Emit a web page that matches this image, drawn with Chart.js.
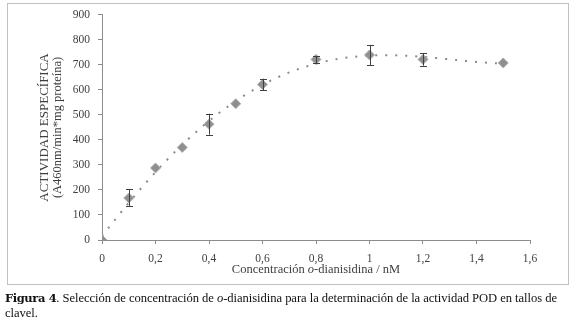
<!DOCTYPE html>
<html>
<head>
<meta charset="utf-8">
<script src="https://cdn.jsdelivr.net/npm/chart.js@4.4.1/dist/chart.umd.min.js"></script>
<style>
  body { margin: 0; background: #fff; }
  #wrap { position: relative; width: 576px; height: 320px; overflow: hidden; }
  #frame { position: absolute; left: 7px; top: 3px; width: 562px; height: 282px; border: 1px solid #c0c0c0; box-sizing: border-box; }
  canvas { position: absolute; left: 0; top: 0; }
  #caption { position: absolute; left: 5px; top: 291px; width: 571px; font-family: "Liberation Serif", "Times New Roman", serif; font-size: 12.6px; letter-spacing: -0.05px; line-height: 15px; color: #111; }
  #caption b { font-family: "DejaVu Serif", serif; font-size: 11.5px; letter-spacing: -0.4px; }
</style>
</head>
<body>
<div id="wrap">
  <div id="frame"></div>
  <canvas id="podChart" width="576" height="320"></canvas>
  <div id="caption"><b>Figura 4</b>. Selección de concentración de <i>o</i>-dianisidina para la determinación de la actividad POD en tallos de clavel.</div>
</div>
<script>
// concentration of o-dianisidina (nM)
const concentrations = [0, 0.1, 0.2, 0.3, 0.4, 0.5, 0.6, 0.8, 1.0, 1.2, 1.5];
// specific activity
const activity = [0, 168, 288, 370, 463, 545, 622, 722, 740, 722, 708];
// error bar half-widths (0 = no visible bar)
const errors = [0, 34, 0, 0, 42, 0, 23, 14, 40, 25, 0];
const yTicks = [0, 100, 200, 300, 400, 500, 600, 700, 800, 900];
const xTicks = [0, 0.2, 0.4, 0.6, 0.8, 1.0, 1.2, 1.4, 1.6];

// least-squares polynomial trendline, like the spreadsheet one
function polyFit(xs, ys, deg) {
  const n = deg + 1;
  const A = [];
  for (let i = 0; i < n; i++) {
    A.push(new Array(n + 1).fill(0));
  }
  xs.forEach((x, k) => {
    for (let i = 0; i < n; i++) {
      for (let j = 0; j < n; j++) A[i][j] += Math.pow(x, i + j);
      A[i][n] += ys[k] * Math.pow(x, i);
    }
  });
  for (let i = 0; i < n; i++) {
    let p = i;
    for (let r = i + 1; r < n; r++) if (Math.abs(A[r][i]) > Math.abs(A[p][i])) p = r;
    [A[i], A[p]] = [A[p], A[i]];
    for (let r = 0; r < n; r++) {
      if (r === i) continue;
      const f = A[r][i] / A[i][i];
      for (let c = i; c <= n; c++) A[r][c] -= f * A[i][c];
    }
  }
  return A.map((row, i) => row[n] / row[i]);
}
const coef = polyFit(concentrations, activity, 4);
const trendPoints = [];
for (let k = 0; k <= 75; k++) {
  const x = 1.5 * k / 75;
  trendPoints.push({ x: x, y: coef.reduce((s, c, i) => s + c * Math.pow(x, i), 0) });
}

const serif = '"Liberation Serif", "Times New Roman", serif';
const labelColor = '#404040';
const axisColor = '#8c8c8c';

const extras = {
  id: 'extras',
  afterDatasetsDraw(chart) {
    const ctx = chart.ctx;
    const xs = chart.scales.x, ys = chart.scales.y;
    // error bars
    ctx.save();
    ctx.strokeStyle = '#404040';
    ctx.lineWidth = 1;
    concentrations.forEach((c, i) => {
      if (!errors[i]) return;
      const px = Math.round(xs.getPixelForValue(c)) + 0.5;
      const top = ys.getPixelForValue(activity[i] + errors[i]);
      const bot = ys.getPixelForValue(activity[i] - errors[i]);
      ctx.beginPath();
      ctx.moveTo(px, top); ctx.lineTo(px, bot);
      ctx.moveTo(px - 3.5, Math.round(top) + 0.5); ctx.lineTo(px + 3.5, Math.round(top) + 0.5);
      ctx.moveTo(px - 3.5, Math.round(bot) + 0.5); ctx.lineTo(px + 3.5, Math.round(bot) + 0.5);
      ctx.stroke();
    });
    ctx.restore();
  },
  afterDraw(chart) {
    const ctx = chart.ctx;
    const area = chart.chartArea;
    ctx.save();
    ctx.fillStyle = labelColor;
    // y axis title, two lines
    const cy = (area.top + area.bottom) / 2;
    ctx.font = '13px ' + serif;
    ctx.textAlign = 'center';
    ctx.textBaseline = 'middle';
    ctx.translate(45, cy);
    ctx.rotate(-Math.PI / 2);
    ctx.fillText('ACTIVIDAD ESPECÍFICA', 0, 0);
    ctx.font = '12.5px ' + serif;
    ctx.fillText('(A460nm/min*mg proteína)', 0, 13);
    ctx.restore();

    // x axis title with italic "o"
    ctx.save();
    ctx.fillStyle = labelColor;
    ctx.textBaseline = 'middle';
    const parts = [
      ['Concentración ', '12.5px ' + serif],
      ['o', 'italic 12.5px ' + serif],
      ['-dianisidina / nM', '12.5px ' + serif]
    ];
    let total = 0;
    parts.forEach(p => { ctx.font = p[1]; total += ctx.measureText(p[0]).width; });
    let x = (area.left + area.right) / 2 - total / 2;
    parts.forEach(p => {
      ctx.font = p[1];
      ctx.fillText(p[0], x, 270);
      x += ctx.measureText(p[0]).width;
    });
    ctx.restore();
  }
};

new Chart(document.getElementById('podChart').getContext('2d'), {
  type: 'scatter',
  data: {
    datasets: [
      {
        label: 'Actividad',
        data: concentrations.map((c, i) => ({ x: c, y: activity[i] })),
        pointStyle: 'rectRot',
        pointRadius: 5,
        backgroundColor: '#8f8f8f',
        borderColor: '#b0b0b0',
        borderWidth: 1,
        order: 1
      },
      {
        label: 'Tendencia',
        type: 'line',
        data: trendPoints,
        borderColor: '#8a8a8a',
        borderWidth: 2,
        borderDash: [2, 8],
        pointRadius: 0,
        fill: false,
        order: 2
      }
    ]
  },
  options: {
    responsive: false,
    animation: false,
    layout: { padding: { top: 10, right: 46, bottom: 0, left: 0 } },
    plugins: { legend: { display: false }, tooltip: { enabled: false } },
    scales: {
      x: {
        type: 'linear',
        min: 0, max: 1.6,
        afterBuildTicks: s => { s.ticks = xTicks.map(v => ({ value: v })); },
        afterFit: s => { s.height = 80; },
        border: { color: axisColor, width: 1 },
        grid: { drawOnChartArea: false, color: axisColor, tickLength: 4 },
        ticks: {
          color: labelColor,
          font: { family: serif, size: 11.5 },
          padding: 8,
          maxRotation: 0,
          callback: v => String(Math.round(v * 10) / 10).replace('.', ',')
        }
      },
      y: {
        min: 0, max: 900,
        afterBuildTicks: s => { s.ticks = yTicks.map(v => ({ value: v })); },
        afterFit: s => { s.width = 102; },
        border: { color: axisColor, width: 1 },
        grid: { drawOnChartArea: false, color: axisColor, tickLength: 4 },
        ticks: {
          color: labelColor,
          font: { family: serif, size: 11.5 },
          padding: 8
        }
      }
    }
  },
  plugins: [extras]
});
</script>
</body>
</html>
